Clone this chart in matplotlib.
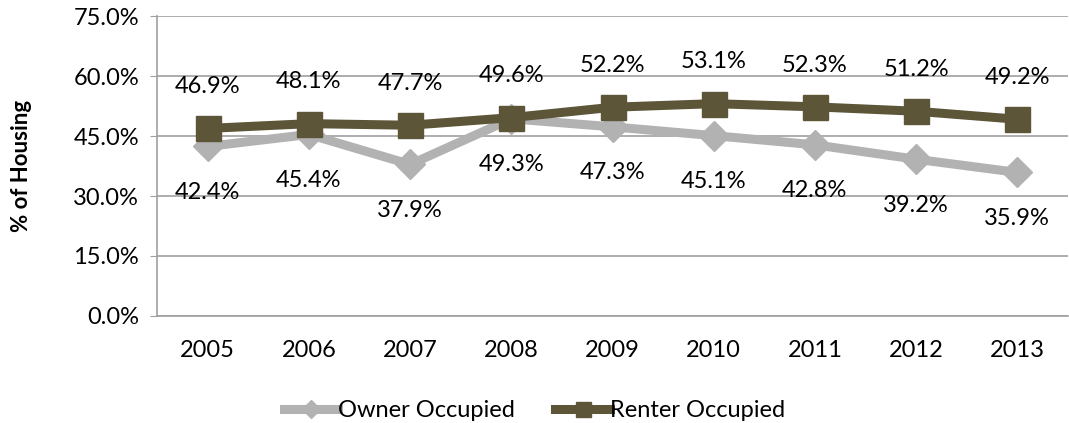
import numpy as np
import matplotlib
matplotlib.use("Agg")
import matplotlib.pyplot as plt
from matplotlib.ticker import FuncFormatter

plt.rcParams['font.family'] = ['Lato', 'DejaVu Sans']

years = ["2005", "2006", "2007", "2008", "2009", "2010", "2011", "2012", "2013"]
owner = [42.4, 45.4, 37.9, 49.3, 47.3, 45.1, 42.8, 39.2, 35.9]
renter = [46.9, 48.1, 47.7, 49.6, 52.2, 53.1, 52.3, 51.2, 49.2]

OWNER_C = "#b2b2b2"
RENTER_C = "#5c5538"
FS = 17

fig = plt.figure(figsize=(10.69, 4.23), dpi=100)
ax = fig.add_axes([0.147, 0.253, 0.852, 0.709])

x = np.arange(len(years))
ax.plot(x, owner, color=OWNER_C, lw=6.5, marker="D", ms=15,
        label="Owner Occupied", zorder=3)
ax.plot(x, renter, color=RENTER_C, lw=6.5, marker="s", ms=18,
        label="Renter Occupied", zorder=4)

# data labels: renter above, owner below
for xi, v in zip(x, renter):
    ax.annotate(f"{v:.1f}%", (xi, v), xytext=(0, 30), textcoords="offset points",
                ha="center", va="center", fontsize=FS, color="black")
for xi, v in zip(x, owner):
    ax.annotate(f"{v:.1f}%", (xi, v), xytext=(0, -33), textcoords="offset points",
                ha="center", va="center", fontsize=FS, color="black")

ax.set_xlim(-0.5, len(years) - 0.5)
ax.set_ylim(0, 75)
ax.set_yticks(np.arange(0, 76, 15))
ax.yaxis.set_major_formatter(FuncFormatter(lambda v, p: f"{v:.1f}%"))
ax.set_xticks(x)
ax.set_xticklabels(years)
ax.tick_params(axis="both", labelsize=FS, colors="black")
ax.tick_params(axis="y", length=5, color="#a0a0a0", direction="out", pad=8)
ax.tick_params(axis="x", length=0, pad=17)

ax.grid(axis="y", color="#a0a0a0", lw=1.2)
ax.set_axisbelow(True)
for s in ["top", "right"]:
    ax.spines[s].set_visible(False)
ax.spines["left"].set_color("#a0a0a0")
ax.spines["bottom"].set_color("#a0a0a0")
ax.spines["left"].set_linewidth(1.2)
ax.spines["bottom"].set_linewidth(1.2)

ax.set_ylabel("% of Housing", fontsize=FS - 1, fontweight="bold", labelpad=30)

fig.legend(loc="lower center", bbox_to_anchor=(0.5, -0.045), ncol=2, frameon=False,
           fontsize=FS, handlelength=2.3, handletextpad=0.0, columnspacing=1.7,
           markerscale=0.6)

fig.savefig("out.png", dpi=100)
